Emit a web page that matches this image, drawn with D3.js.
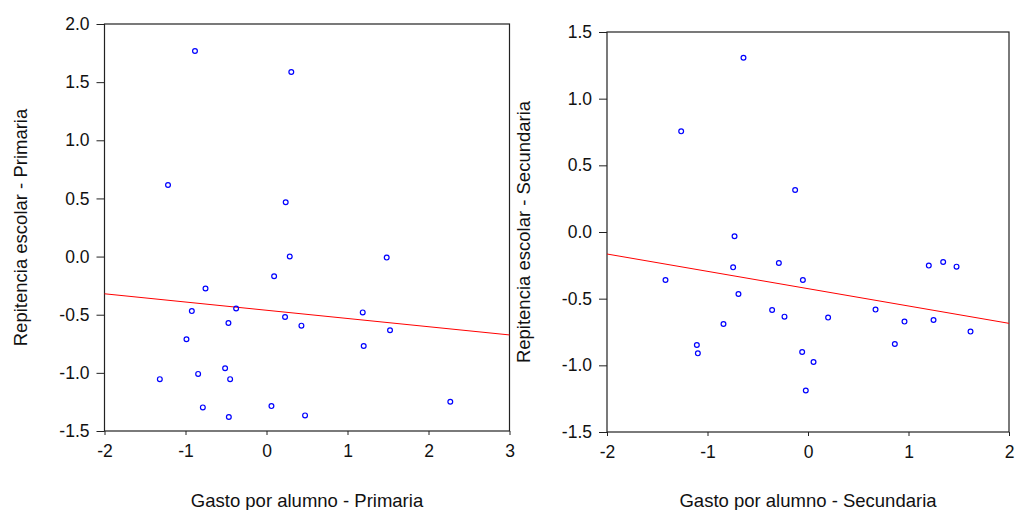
<!DOCTYPE html>
<html>
<head>
<meta charset="utf-8">
<script src="https://cdn.jsdelivr.net/npm/d3@7"></script>
<style>
  body { margin: 0; background: #fff; }
  text { font-family: "Liberation Sans", Arial, sans-serif; fill: #111; }
</style>
</head>
<body>
<svg id="chart" width="1015" height="510"></svg>
<script>
"use strict";

// gasto por alumno vs repitencia - primaria
const gastoPrimaria = [-0.883, 0.306, -1.216, 0.237, 0.287, 1.484, 0.094, -0.753, -0.922, -0.375,
    -0.470, 0.229, 0.431, 1.188, 1.525, -0.988, 1.200, -0.511, -0.844, -1.317,
    -0.449, -0.786, 0.061, 2.269, -0.465, 0.476];
const repitPrimaria = [1.768, 1.587, 0.616, 0.467, 0.000, -0.009, -0.169, -0.274, -0.469, -0.446,
    -0.571, -0.520, -0.594, -0.480, -0.634, -0.711, -0.769, -0.960, -1.009, -1.054,
    -1.054, -1.297, -1.286, -1.249, -1.380, -1.366];
const fitPrimaria = [-0.4616, -0.0708]; // intercept, slope

// secundaria
const gastoSecundaria = [-0.642, -1.262, -0.128, -0.731, -1.418, -0.745, -0.290, -0.051, -0.692, -0.357,
    -0.234, -0.841, 0.200, 0.672, 0.960, 1.249, 1.202, 1.345, 1.478, 1.617,
    0.864, -1.106, -1.096, -0.058, 0.055, -0.022];
const repitSecundaria = [1.307, 0.755, 0.315, -0.032, -0.360, -0.265, -0.232, -0.360, -0.465, -0.585,
    -0.635, -0.690, -0.642, -0.582, -0.672, -0.660, -0.252, -0.225, -0.260, -0.747,
    -0.840, -0.847, -0.910, -0.900, -0.975, -1.189];
const fitSecundaria = [-0.425, -0.130];

const xTicksPrimaria = [-2, -1, 0, 1, 2, 3];
const xTicksSecundaria = [-2, -1, 0, 1, 2];
const yTicksPrimaria = [-1.5, -1.0, -0.5, 0.0, 0.5, 1.0, 1.5, 2.0];
const yTicksSecundaria = [-1.5, -1.0, -0.5, 0.0, 0.5, 1.0, 1.5];

const svg = d3.select("#chart");

/**
 * Draw one scatter panel with its fitted line.
 */
function drawPanel(opts) {
    const x = d3.scaleLinear().domain(opts.xDomain).range([opts.left, opts.right]);
    const y = d3.scaleLinear().domain(opts.yDomain).range([opts.bottom, opts.top]);
    const g = svg.append("g");

    g.append("g")
        .attr("transform", `translate(0,${opts.bottom})`)
        .call(d3.axisBottom(x).tickValues(opts.xTicks).tickFormat(d3.format("d"))
            .tickSize(4).tickSizeOuter(0).tickPadding(10));
    g.append("g")
        .attr("transform", `translate(${opts.left},0)`)
        .call(d3.axisLeft(y).tickValues(opts.yTicks).tickFormat(d3.format(".1f"))
            .tickSize(8).tickSizeOuter(0).tickPadding(7));
    g.selectAll(".domain").remove();
    g.selectAll(".tick line").attr("stroke", "#222");
    g.selectAll(".tick text")
        .style("font-size", "17.5px")
        .style("font-family", "'Liberation Sans', Arial, sans-serif")
        .attr("fill", "#111")
        .text(function () { return this.textContent.replace("\u2212", "-"); });

    g.append("rect")
        .attr("x", opts.left).attr("y", opts.top)
        .attr("width", opts.right - opts.left).attr("height", opts.bottom - opts.top)
        .attr("fill", "none").attr("stroke", "#222").attr("stroke-width", 1.2);

    const [b0, b1] = opts.fit;
    g.append("line")
        .attr("x1", x(opts.xDomain[0])).attr("y1", y(b0 + b1 * opts.xDomain[0]))
        .attr("x2", x(opts.xDomain[1])).attr("y2", y(b0 + b1 * opts.xDomain[1]))
        .attr("stroke", "#ff0000").attr("stroke-width", 1);

    g.selectAll("circle")
        .data(d3.zip(opts.xs, opts.ys))
        .join("circle")
        .attr("cx", (d) => x(d[0]))
        .attr("cy", (d) => y(d[1]))
        .attr("r", 2.4)
        .attr("fill", "none")
        .attr("stroke", "#0000ff")
        .attr("stroke-width", 1.2);

    g.append("text")
        .attr("x", (opts.left + opts.right) / 2).attr("y", 507)
        .attr("text-anchor", "middle")
        .style("font-size", "18.5px")
        .text(opts.xTitle);
    g.append("text")
        .attr("transform", `translate(${opts.yTitleX},${(opts.top + opts.bottom) / 2}) rotate(-90)`)
        .attr("text-anchor", "middle")
        .style("font-size", "18.5px")
        .text(opts.yTitle);
}

drawPanel({
    xs: gastoPrimaria, ys: repitPrimaria, fit: fitPrimaria,
    xDomain: [-2, 3], yDomain: [-1.5, 2.0],
    xTicks: xTicksPrimaria, yTicks: yTicksPrimaria,
    left: 104.5, right: 509.5, top: 24, bottom: 431,
    xTitle: "Gasto por alumno - Primaria",
    yTitle: "Repitencia escolar - Primaria", yTitleX: 27
});

drawPanel({
    xs: gastoSecundaria, ys: repitSecundaria, fit: fitSecundaria,
    xDomain: [-2, 2], yDomain: [-1.5, 1.5],
    xTicks: xTicksSecundaria, yTicks: yTicksSecundaria,
    left: 607, right: 1009, top: 32, bottom: 432,
    xTitle: "Gasto por alumno - Secundaria",
    yTitle: "Repitencia escolar - Secundaria", yTitleX: 530
});
</script>
</body>
</html>
